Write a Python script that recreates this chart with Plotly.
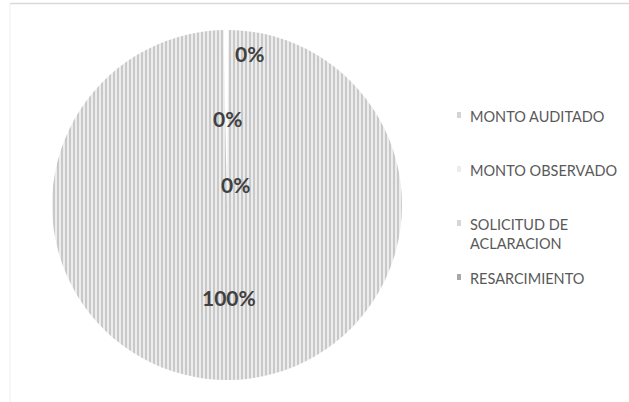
import plotly.graph_objects as go

# Shares of each concept
labels = ["MONTO AUDITADO", "MONTO OBSERVADO", "SOLICITUD DE ACLARACION", "RESARCIMIENTO"]
legend_text = ["MONTO AUDITADO", "MONTO OBSERVADO", "SOLICITUD DE<br>ACLARACION", "RESARCIMIENTO"]
values = [0.05, 0.4, 0.03, 99.52]

slice_bg = ["#eeeeee", "#ffffff", "#eeeeee", "#ececec"]
slice_fg = ["#c4c4c4", "#ffffff", "#c8c8c8", "#c0c0c0"]
slice_shape = ["|", "", "|", "|"]
legend_colors = ["#d4d4d4", "#ececec", "#d6d6d6", "#a8a8a8"]

W, H = 629, 402
total = sum(values)
pct = [f"{round(v / total * 100):.0f}%" for v in values]

fig = go.Figure()
fig.add_trace(go.Pie(
    labels=labels,
    values=values,
    sort=False,
    direction="clockwise",
    rotation=-1.2,
    textinfo="none",
    hoverinfo="label+percent",
    showlegend=False,
    marker=dict(
        colors=slice_bg,
        line=dict(width=0),
        pattern=dict(shape=slice_shape, fgcolor=slice_fg, bgcolor=slice_bg,
                     size=4, solidity=0.4, fillmode="replace"),
    ),
    domain=dict(x=[52 / W, 402 / W], y=[(H - 380) / H, (H - 30) / H]),
))

# Data labels placed in the pie
label_pos = [(249, 53), (227, 118), (235, 185), (229, 297)]
annotations = []
for (px, py), txt in zip(label_pos, pct):
    annotations.append(dict(
        x=px / W, y=1 - py / H, xref="paper", yref="paper",
        text=f"<b>{txt}</b>", showarrow=False,
        font=dict(family="Lato, Open Sans, sans-serif", size=21, color="#404040"),
        xanchor="center", yanchor="middle",
    ))

# Legend drawn at the right of the pie
legend_y = [115, 169, 223, 277]
shapes = []
for ly, txt, col in zip(legend_y, legend_text, legend_colors):
    annotations.append(dict(
        x=468 / W, y=1 - (ly - 9) / H, xref="paper", yref="paper",
        text=txt, showarrow=False, align="left",
        font=dict(family="Lato, Open Sans, sans-serif", size=14.5, color="#595959"),
        xanchor="left", yanchor="top",
    ))
    shapes.append(dict(type="rect", xref="paper", yref="paper",
                       x0=457 / W, x1=461 / W, y0=1 - (ly + 3) / H, y1=1 - (ly - 3) / H,
                       fillcolor=col, line=dict(width=0)))

# Chart area border (top and left edges)
shapes.append(dict(type="line", xref="paper", yref="paper",
                   x0=10 / W, x1=1, y0=1 - 3.5 / H, y1=1 - 3.5 / H,
                   line=dict(color="#d9d9d9", width=1.5)))
shapes.append(dict(type="line", xref="paper", yref="paper",
                   x0=10 / W, x1=10 / W, y0=0, y1=1 - 3.5 / H,
                   line=dict(color="#f0f0f0", width=1)))

fig.update_layout(
    width=W, height=H,
    margin=dict(l=0, r=0, t=0, b=0),
    paper_bgcolor="white",
    plot_bgcolor="white",
    annotations=annotations,
    shapes=shapes,
)

fig.write_html("out.html")
